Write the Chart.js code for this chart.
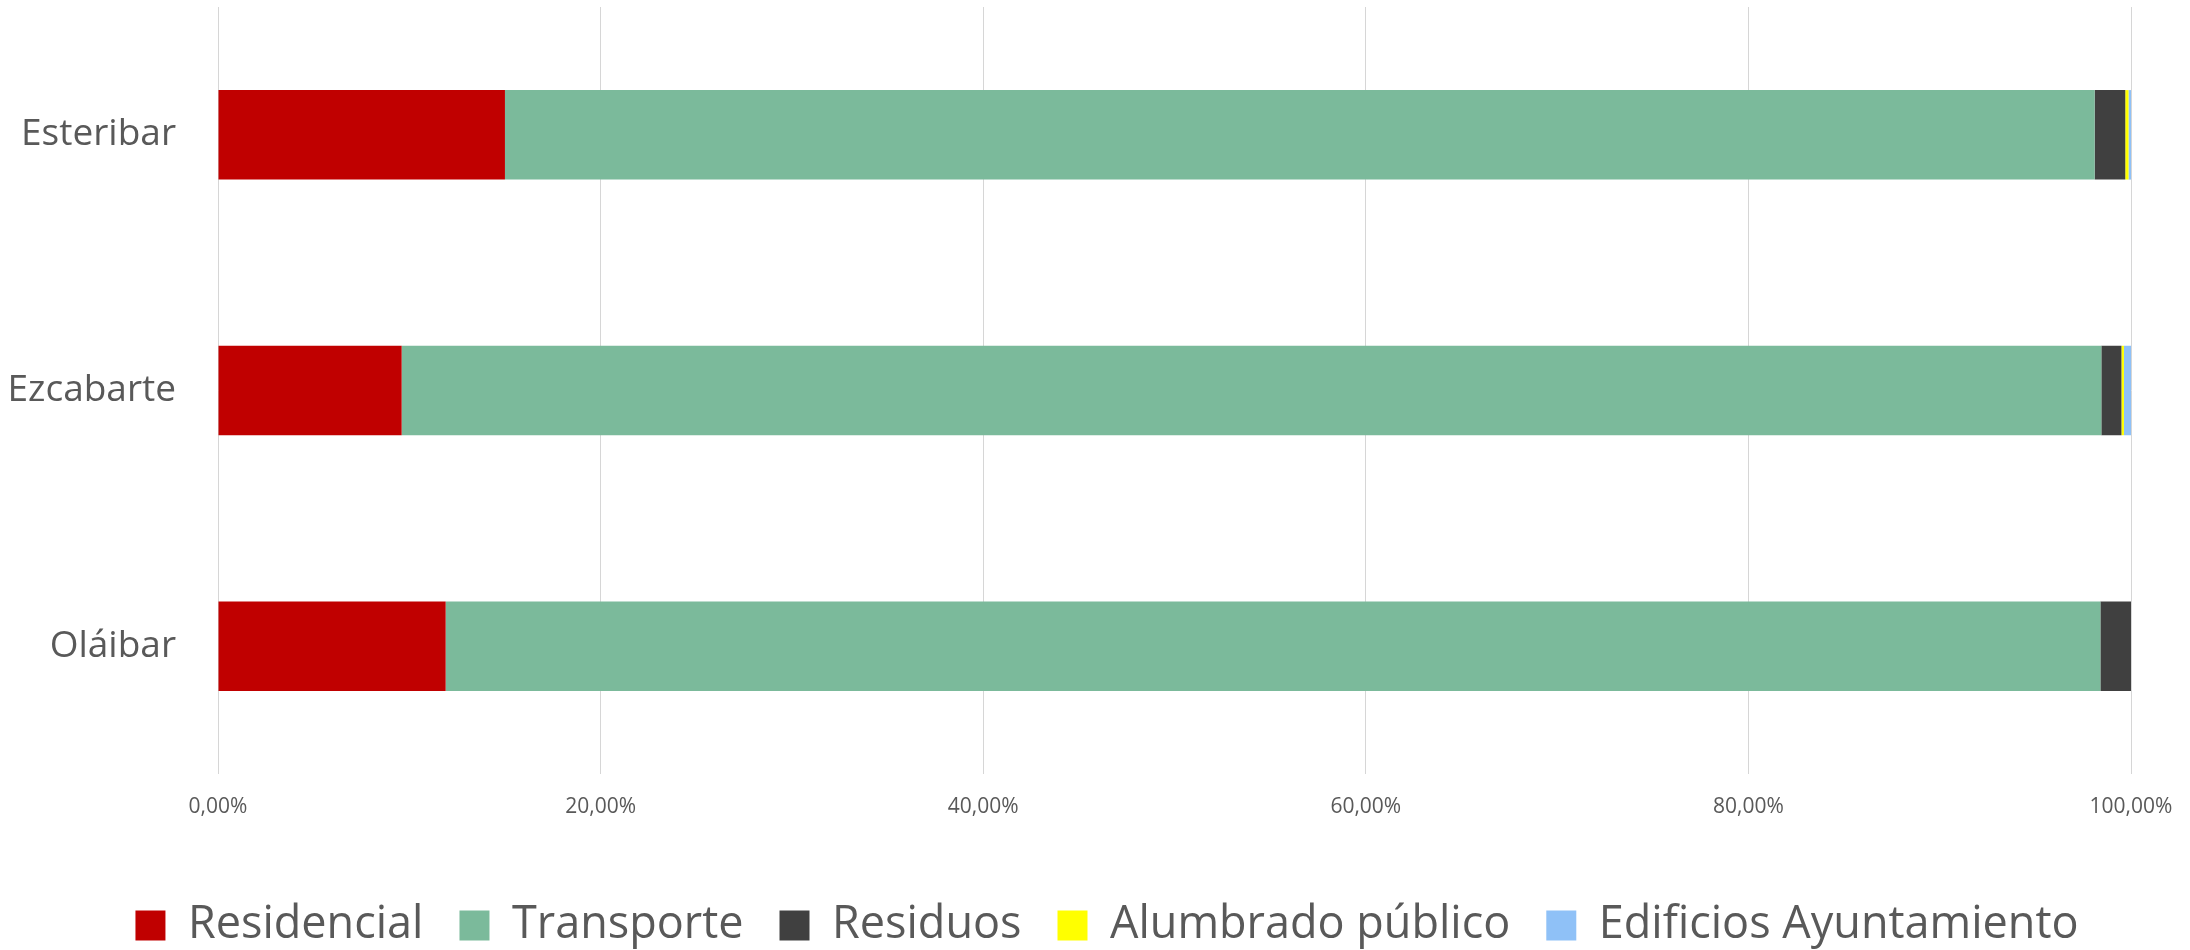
<!DOCTYPE html>
<html>
<head>
<meta charset="utf-8">
<script src="https://cdn.jsdelivr.net/npm/chart.js@4/dist/chart.umd.min.js"></script>
<style>
  html, body { margin: 0; padding: 0; background: #fff; }
  #wrap { width: 2190px; height: 950px; }
</style>
</head>
<body>
<div id="wrap"><canvas id="myChart" width="2190" height="950"></canvas></div>
<script>
// municipios (de arriba a abajo)
const municipios = ['Esteribar', 'Ezcabarte', 'Oláibar'];

// porcentaje de cada sector por municipio
const residencial = [15.0, 9.6, 11.9];
const transporte = [83.1, 88.85, 86.5];
const residuos = [1.6, 1.05, 1.6];
const alumbrado = [0.17, 0.13, 0];
const edificios = [0.13, 0.37, 0];

const xTicks = [0, 20, 40, 60, 80, 100];

const gris = '#595959';

function serie(label, data, color) {
    return {
        label: label,
        data: data,
        backgroundColor: color,
        borderWidth: 0,
        barPercentage: 0.35,
        categoryPercentage: 1
    };
}

// la leyenda del original está un poco desplazada a la derecha
const moverLeyenda = {
    id: 'moverLeyenda',
    afterLayout: function(chart) {
        if (chart.legend) chart.legend.left = 24;
    }
};

const ctx = document.getElementById('myChart');
const chart = new Chart(ctx, {
    type: 'bar',
    data: {
        labels: municipios,
        datasets: [
            serie('Residencial', residencial, '#C00000'),
            serie('Transporte', transporte, '#7BBA9B'),
            serie('Residuos', residuos, '#404040'),
            serie('Alumbrado público', alumbrado, '#FFFF00'),
            serie('Edificios Ayuntamiento', edificios, '#8FC1F7')
        ]
    },
    plugins: [moverLeyenda],
    options: {
        indexAxis: 'y',
        responsive: false,
        animation: false,
        layout: { padding: { top: 7, right: 0, left: 0, bottom: -8 } },
        scales: {
            x: {
                stacked: true,
                min: 0,
                max: 100,
                afterBuildTicks: function(scale) {
                    scale.ticks = xTicks.map(v => ({ value: v }));
                },
                ticks: {
                    padding: 20,
                    color: gris,
                    font: { family: 'Open Sans', size: 21 },
                    callback: v => v.toFixed(2).replace('.', ',') + '%'
                },
                grid: { color: '#d6d6d6', lineWidth: 1, drawTicks: false },
                border: { display: false },
                afterFit: function(scale) {
                    scale.height = 93;
                    scale.paddingLeft = 0;
                    scale.paddingRight = 59;
                }
            },
            y: {
                stacked: true,
                ticks: {
                    padding: 42,
                    color: gris,
                    font: { family: 'Open Sans', size: 37 }
                },
                grid: { display: false, drawTicks: false },
                border: { display: false },
                afterFit: function(scale) {
                    scale.width = 218;
                    scale.paddingTop = 0;
                    scale.paddingBottom = 0;
                }
            }
        },
        plugins: {
            legend: {
                position: 'bottom',
                labels: {
                    boxWidth: 30,
                    boxHeight: 30,
                    padding: 36,
                    color: gris,
                    font: { family: 'Open Sans', size: 45 }
                }
            },
            tooltip: { enabled: false }
        }
    }
});
</script>
</body>
</html>
